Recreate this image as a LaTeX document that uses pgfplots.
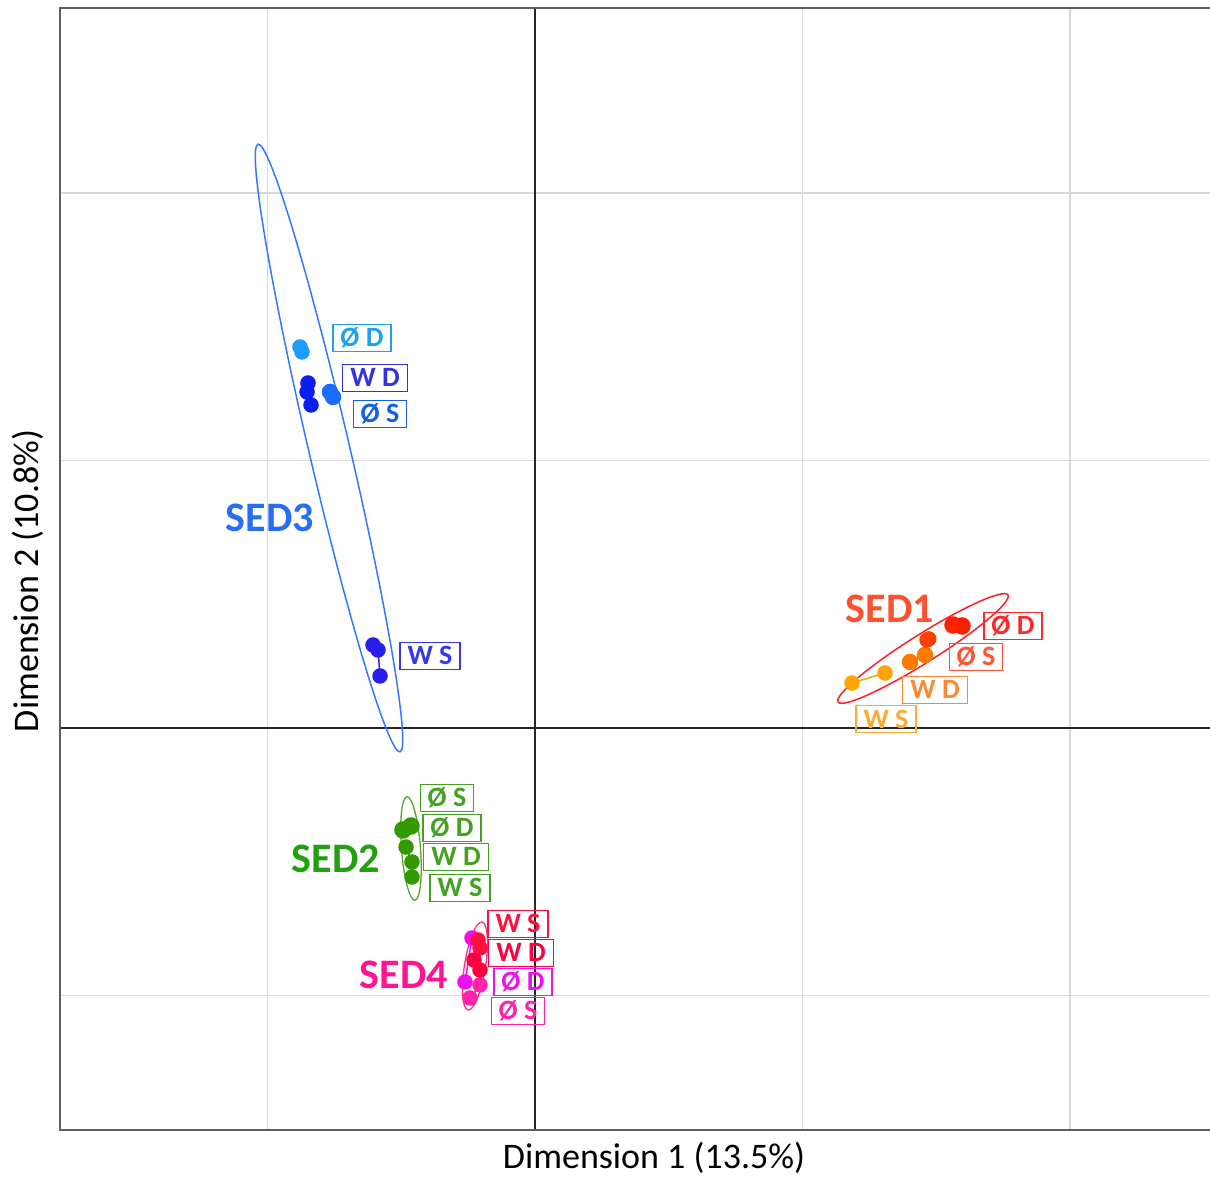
\documentclass[border=0pt]{standalone}
\usepackage{pgfplots}
\pgfplotsset{compat=1.18}
\usepackage{fontspec}
\setmainfont{Carlito}
% colours
\definecolor{sedthree}{RGB}{40,110,245}
\definecolor{ellthree}{RGB}{50,120,255}
\definecolor{bOD}{RGB}{30,155,255}
\definecolor{bWD}{RGB}{10,30,240}
\definecolor{bOS}{RGB}{25,110,255}
\definecolor{bWS}{RGB}{40,30,238}
\definecolor{lbOD}{RGB}{30,160,240}
\definecolor{lbWD}{RGB}{50,50,225}
\definecolor{lbOS}{RGB}{20,95,230}
\definecolor{lbWS}{RGB}{55,55,240}
\definecolor{sedone}{RGB}{255,80,48}
\definecolor{ellone}{RGB}{255,30,40}
\definecolor{oWS}{RGB}{255,165,0}
\definecolor{oWD}{RGB}{255,122,0}
\definecolor{oOS}{RGB}{255,64,0}
\definecolor{oOD}{RGB}{255,32,0}
\definecolor{loOD}{RGB}{255,40,40}
\definecolor{loOS}{RGB}{255,85,55}
\definecolor{loWD}{RGB}{255,136,51}
\definecolor{loWS}{RGB}{255,170,51}
\definecolor{sedtwo}{RGB}{34,160,16}
\definecolor{gpt}{RGB}{51,153,0}
\definecolor{lg}{RGB}{68,160,34}
\definecolor{sedfour}{RGB}{255,20,147}
\definecolor{ellfour}{RGB}{255,48,128}
\definecolor{mWS}{RGB}{255,16,64}
\definecolor{mWD}{RGB}{255,0,64}
\definecolor{mOD}{RGB}{238,17,238}
\definecolor{mOS}{RGB}{255,34,170}
\definecolor{bordergray}{RGB}{95,95,95}
\begin{document}
\begin{tikzpicture}[x=1pt,y=1pt]
\begin{axis}[
  at={(60pt,47pt)}, anchor=south west,
  width=1150pt, height=1122pt, scale only axis,
  xmin=-1.7757, xmax=2.5234, ymin=-1.5028, ymax=2.6916,
  axis line style={draw=none},
  xtick={-1,1,2}, ytick={-1,1,2},
  xticklabels={}, yticklabels={},
  major tick length=0pt,
  grid=major,
  major grid style={draw=black!15, line width=1.5pt},
  clip=false,
  every axis plot/.append style={line width=1.5pt},
]
% zero lines
\draw[black!85, line width=1.6pt] (axis cs:0,-1.5028) -- (axis cs:0,2.6916);
\draw[black!85, line width=1.6pt] (axis cs:-1.7757,0) -- (axis cs:2.5234,0);
% frame (right side cut off)
\draw[bordergray, line width=2.6pt] (rel axis cs:1.01,1) -- (rel axis cs:0,1) -- (rel axis cs:0,0) -- (rel axis cs:1.01,0);

% ellipses
\draw[ellthree, line width=1.5pt, rotate around={103.15:(axis cs:-0.7701,1.0467)}] (axis cs:-0.7701,1.0467) ellipse [x radius=312pt, y radius=20.4pt];
\draw[ellone, line width=1.5pt, rotate around={32.2:(axis cs:1.4505,0.2972)}] (axis cs:1.4505,0.2972) ellipse [x radius=100.4pt, y radius=14pt];
\draw[gpt!85, line width=1.3pt, rotate around={94.4:(axis cs:-0.4636,-0.4505)}] (axis cs:-0.4636,-0.4505) ellipse [x radius=52pt, y radius=9.5pt];
\draw[ellfour, line width=1.3pt, rotate around={81:(axis cs:-0.2243,-0.8897)}] (axis cs:-0.2243,-0.8897) ellipse [x radius=44.6pt, y radius=10.5pt];

% SED3 points
\addplot[bOD, mark=*, mark size=7pt, mark options={solid}] coordinates {(-0.8785,1.4243) (-0.8710,1.4056)};
\addplot[bWD, mark=*, mark size=7pt, mark options={solid}] coordinates {(-0.8486,1.2897) (-0.8523,1.2561) (-0.8374,1.2075)};
\addplot[bOS, mark=*, mark size=7.5pt, mark options={solid}] coordinates {(-0.7664,1.2561) (-0.7551,1.2374)};
\addplot[bWS, mark=*, mark size=7pt, mark options={solid}] coordinates {(-0.6056,0.3103) (-0.5869,0.2916) (-0.5794,0.1944)};
% SED1 points
\addplot[oWS, mark=*, mark size=7pt, mark options={solid}] coordinates {(1.1850,0.1682) (1.3084,0.2056)};
\addplot[oWD, mark=*, mark size=7.5pt, mark options={solid}] coordinates {(1.4019,0.2467) (1.4579,0.2729)};
\addplot[oOS, mark=*, mark size=7pt, mark options={solid}] coordinates {(1.4654,0.3290) (1.4720,0.3330)};
\addplot[oOD, mark=*, mark size=8pt, mark options={solid}] coordinates {(1.5626,0.3850) (1.5963,0.3813)};
% SED2 points
\addplot[gpt, mark=*, mark size=8pt, mark options={solid}] coordinates {(-0.4935,-0.3813) (-0.4636,-0.3664)};
\addplot[gpt, mark=*, mark size=7pt, mark options={solid}] coordinates {(-0.4822,-0.4449) (-0.4598,-0.5009) (-0.4598,-0.5570)};
% SED4 points
\addplot[mOD, mark=*, mark size=7pt, mark options={solid}] coordinates {(-0.2355,-0.7850) (-0.2617,-0.9495)};
\addplot[mOS, mark=*, mark size=7pt, mark options={solid}] coordinates {(-0.2430,-1.0093) (-0.2056,-0.9607)};
\addplot[mWS, mark=*, mark size=7pt, mark options={solid}] coordinates {(-0.2131,-0.7925) (-0.2056,-0.8224)};
\addplot[mWD, mark=*, mark size=7pt, mark options={solid}] coordinates {(-0.2280,-0.8673) (-0.2056,-0.9047)};

% label boxes
\tikzset{lab/.style={draw=#1, text=#1, line width=1.3pt, inner xsep=7.5pt, inner ysep=4.5pt, text height=18pt, text depth=0pt, font=\bfseries\fontsize{28}{28}\selectfont}}
\node[lab=lbOD] at (axis cs:-0.6467,1.4579) {Ø D};
\node[lab=lbWD] at (axis cs:-0.5981,1.3084) {W D};
\node[lab=lbOS] at (axis cs:-0.5794,1.1738) {Ø S};
\node[lab=lbWS] at (axis cs:-0.3925,0.2692) {W S};
\node[lab=loOD] at (axis cs:1.7869,0.3813) {Ø D};
\node[lab=loOS] at (axis cs:1.6486,0.2654) {Ø S};
\node[lab=loWD] at (axis cs:1.4953,0.1421) {W D};
\node[lab=loWS] at (axis cs:1.3121,0.0336) {W S};
\node[lab=lg] at (axis cs:-0.3290,-0.2617) {Ø S};
\node[lab=lg] at (axis cs:-0.3103,-0.3738) {Ø D};
\node[lab=lg] at (axis cs:-0.2953,-0.4822) {W D};
\node[lab=lg] at (axis cs:-0.2804,-0.5981) {W S};
\node[lab=mWS] at (axis cs:-0.0636,-0.7327) {W S};
\node[lab=mWD] at (axis cs:-0.0523,-0.8411) {W D};
\node[lab=mOD] at (axis cs:-0.0449,-0.9495) {Ø D};
\node[lab=mOS] at (axis cs:-0.0636,-1.0579) {Ø S};

% group labels
\node[text=sedthree, font=\bfseries\fontsize{42}{42}\selectfont] at (axis cs:-0.9907,0.7850) {SED3};
\node[text=sedone, font=\bfseries\fontsize{42}{42}\selectfont] at (axis cs:1.3271,0.4449) {SED1};
\node[text=sedtwo, font=\bfseries\fontsize{42}{42}\selectfont] at (axis cs:-0.7439,-0.4897) {SED2};
\node[text=sedfour, font=\bfseries\fontsize{42}{42}\selectfont] at (axis cs:-0.4897,-0.9234) {SED4};
\end{axis}
\node[font=\fontsize{36}{36}\selectfont] at (654pt,19pt) {Dimension 1 (13.5\%)};
\node[font=\fontsize{36}{36}\selectfont, rotate=90] at (28pt,596pt) {Dimension 2 (10.8\%)};
\pgfresetboundingbox
\path[use as bounding box] (0,0) rectangle (1210pt,1177pt);
\end{tikzpicture}
\end{document}
